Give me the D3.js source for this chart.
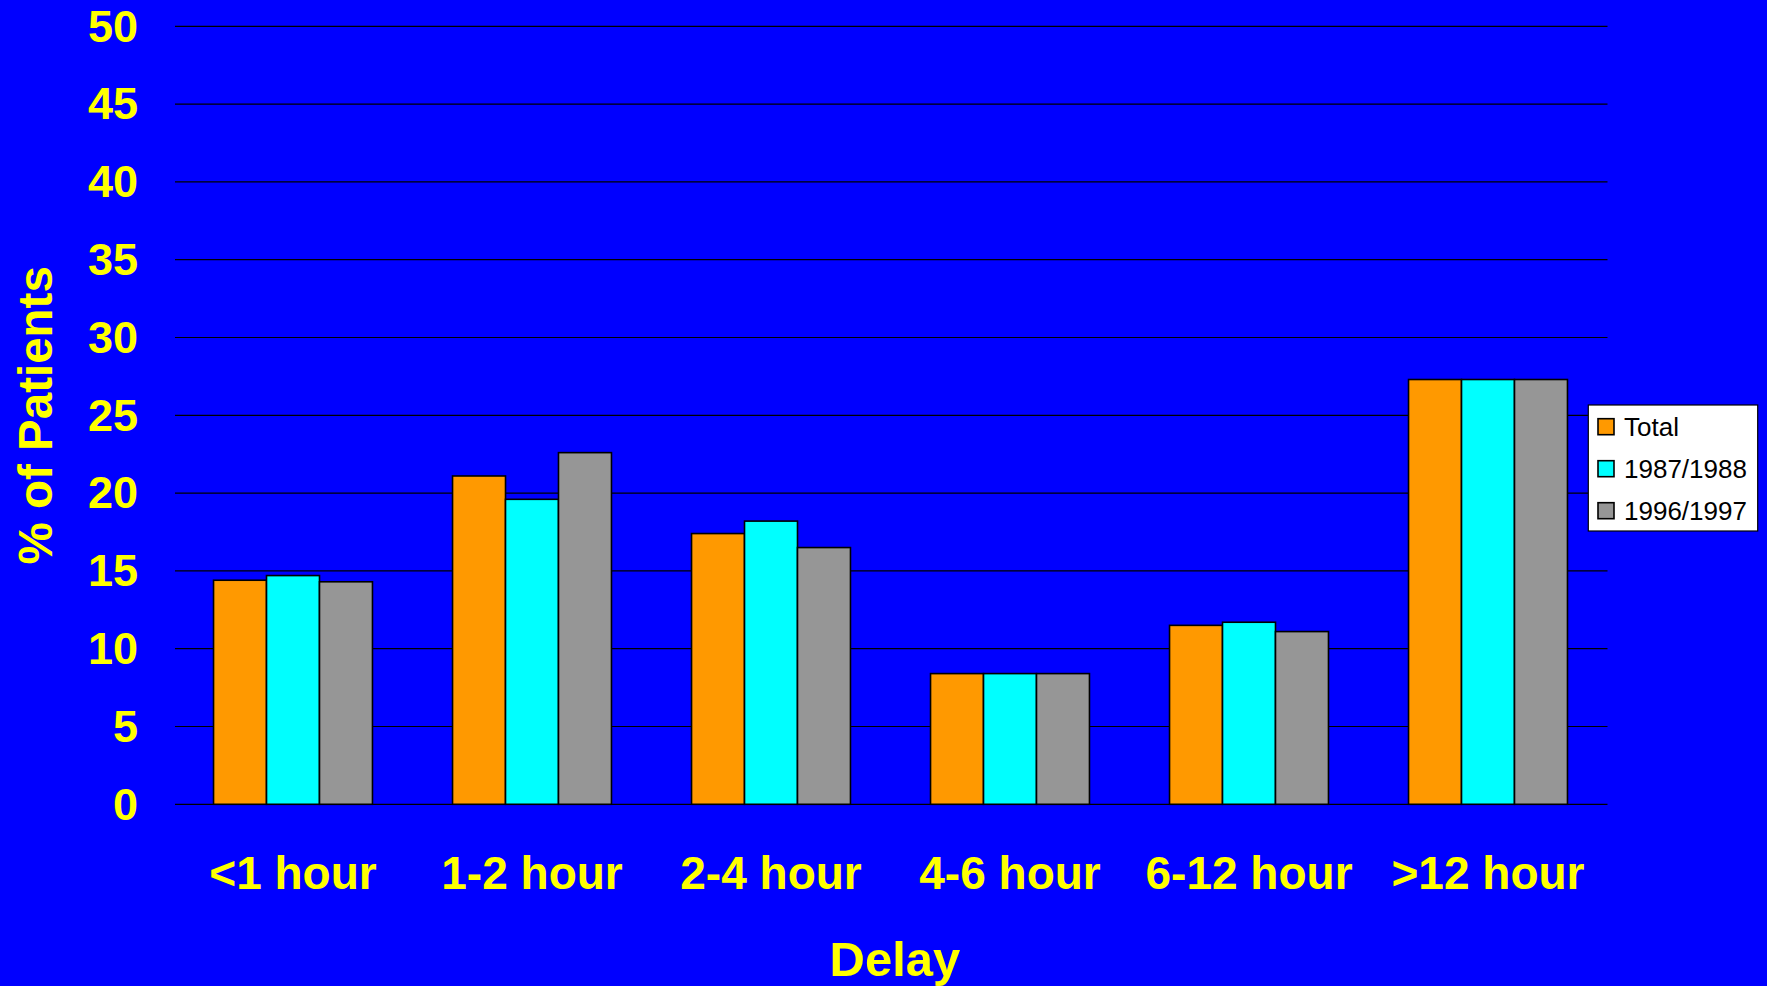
<!DOCTYPE html>
<html>
<head>
<meta charset="utf-8">
<script src="https://cdn.jsdelivr.net/npm/d3@7"></script>
<style>
  html, body { margin: 0; padding: 0; background: #0000FF; }
  svg { display: block; }
</style>
</head>
<body>
<svg id="chart" width="1767" height="986"></svg>
<script>
// Delay before admission, share of patients per period
const categories = ["<1 hour", "1-2 hour", "2-4 hour", "4-6 hour", "6-12 hour", ">12 hour"];
const seriesNames = ["Total", "1987/1988", "1996/1997"];
const totalValues = [14.4, 21.1, 17.4, 8.4, 11.5, 27.3];
const period8788Values = [14.7, 19.6, 18.2, 8.4, 11.7, 27.3];
const period9697Values = [14.3, 22.6, 16.5, 8.4, 11.1, 27.3];
const yTicks = [0, 5, 10, 15, 20, 25, 30, 35, 40, 45, 50];
const seriesColors = ["#FF9900", "#00FFFF", "#969696"];

const seriesValues = [totalValues, period8788Values, period9697Values];
const rows = categories.map((c, i) => ({
  category: c,
  values: seriesNames.map((s, j) => ({ series: s, value: seriesValues[j][i] }))
}));

const svg = d3.select("#chart");
const plot = { left: 173.5, right: 1607.5, top: 26.3, bottom: 804.3 };
const gridLeft = 175;

const y = d3.scaleLinear().domain([0, 50]).range([plot.bottom, plot.top]);
const x0 = d3.scaleBand().domain(categories)
  .range([plot.left, plot.right])
  .paddingInner(0.335).paddingOuter(0.1675);
const x1 = d3.scaleBand().domain(seriesNames).range([0, x0.bandwidth()]);
const color = d3.scaleOrdinal().domain(seriesNames).range(seriesColors);

const font = "'Liberation Sans', Arial, Helvetica, sans-serif";

// Horizontal gridlines
svg.append("g").selectAll("line").data(yTicks).join("line")
  .attr("x1", gridLeft).attr("x2", plot.right)
  .attr("y1", d => y(d)).attr("y2", d => y(d))
  .attr("stroke", "#000").attr("stroke-width", 1.2);

// Y axis labels
const yAxis = d3.axisLeft(y).tickValues(yTicks).tickSize(0).tickPadding(0);
const yg = svg.append("g").attr("transform", "translate(138,0)").call(yAxis);
yg.select(".domain").remove();
yg.selectAll("text")
  .attr("fill", "#FFFF00").attr("font-family", font)
  .attr("font-weight", "bold").attr("font-size", 45)
  .attr("dy", "0.33em");

// Bars
svg.append("g").selectAll("g").data(rows).join("g")
  .attr("transform", d => `translate(${x0(d.category)},0)`)
  .selectAll("rect").data(d => d.values).join("rect")
  .attr("x", d => x1(d.series))
  .attr("width", x1.bandwidth())
  .attr("y", d => y(d.value))
  .attr("height", d => y(0) - y(d.value))
  .attr("fill", d => color(d.series))
  .attr("stroke", "#000").attr("stroke-width", 1.6);

// X axis labels
const xAxis = d3.axisBottom(x0).tickSize(0).tickPadding(0);
const xg = svg.append("g").attr("transform", `translate(0,${plot.bottom})`).call(xAxis);
xg.select(".domain").remove();
xg.selectAll("text")
  .attr("fill", "#FFFF00").attr("font-family", font)
  .attr("font-weight", "bold").attr("font-size", 46)
  .attr("y", 85).attr("dy", 0);

// Axis titles
svg.append("text")
  .attr("x", 895).attr("y", 975.7)
  .attr("text-anchor", "middle")
  .attr("fill", "#FFFF00").attr("font-family", font)
  .attr("font-weight", "bold").attr("font-size", 49)
  .text("Delay");

svg.append("text")
  .attr("transform", `translate(51.7,${(plot.top + plot.bottom) / 2}) rotate(-90)`)
  .attr("text-anchor", "middle")
  .attr("fill", "#FFFF00").attr("font-family", font)
  .attr("font-weight", "bold").attr("font-size", 47.5)
  .text("% of Patients");

// Legend
const legend = svg.append("g");
legend.append("rect")
  .attr("x", 1588.3).attr("y", 405)
  .attr("width", 169.4).attr("height", 126)
  .attr("fill", "#fff").attr("stroke", "#000").attr("stroke-width", 1.2);
const items = legend.selectAll("g.item").data(seriesNames).join("g")
  .attr("class", "item")
  .attr("transform", (d, i) => `translate(1598,${426.7 + i * 42})`);
items.append("rect")
  .attr("x", 0).attr("y", -8).attr("width", 16).attr("height", 16)
  .attr("fill", d => color(d)).attr("stroke", "#000").attr("stroke-width", 1.6);
items.append("text")
  .attr("x", 26).attr("y", 0).attr("dy", "0.35em")
  .attr("fill", "#000").attr("font-family", font).attr("font-size", 26)
  .text(d => d);
</script>
</body>
</html>
